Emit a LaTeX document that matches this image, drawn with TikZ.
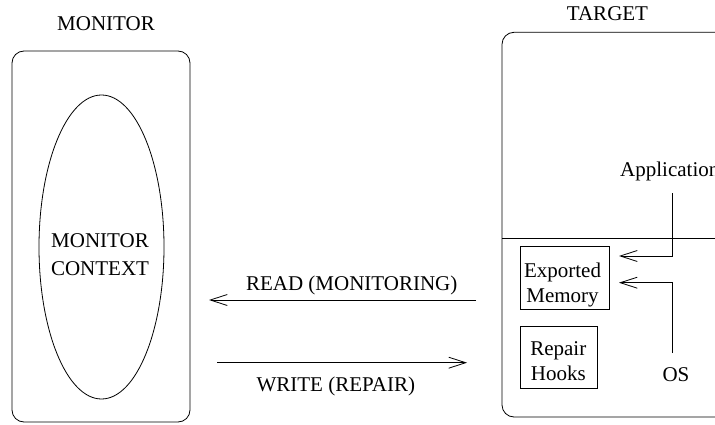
\documentclass[tikz,border=0pt]{standalone}
\usepackage{fontspec}
\setmainfont{Liberation Serif}
\usetikzlibrary{arrows.meta,shapes.geometric}
\begin{document}
\begin{tikzpicture}[x=1pt,y=-1pt,
  every node/.style={font=\fontsize{21}{25}\selectfont, inner sep=0pt},
  line/.style={line width=0.8pt},
  flow/.style={line, -{Straight Barb[length=17pt,width=11pt,line width=0.8pt]}},
  panel/.style={line, draw, rounded corners=12pt},
  membox/.style={line, draw},
  twoline/.style={align=center, anchor=north, font=\fontsize{21}{#1}\selectfont}]
\useasboundingbox (0,0) rectangle (715,425);
\clip (0,0) rectangle (715,425);

% monitor side
\node[anchor=base] (monlabel) at (106,31) {MONITOR};
\node[panel, minimum width=178pt, minimum height=371pt] (monitor) at (101,236.5) {};
\node[line, draw, ellipse, minimum width=125pt, minimum height=304pt]
  (context) at (101.5,247) {};
\node[twoline=28] (ctxtext) at (100,233.8) {MONITOR\\CONTEXT};

% target side
\node[anchor=base] (tgtlabel) at (607.5,20.7) {TARGET};
\draw[panel] (502,32.3) rectangle (740,417);
\coordinate (splitL) at (502,238);
\coordinate (splitR) at (715,238);
\draw[line] (splitL) -- (splitR);

\node[membox, minimum width=88.6pt, minimum height=62.8pt] (exported) at (565,277.9) {};
\node[twoline=25] (exptext) at (562.5,262.4) {Exported\\Memory};
\node[membox, minimum width=77.5pt, minimum height=61.6pt] (repair) at (558.75,357.5) {};
\node[twoline=24.7] (reptext) at (558.3,341.7) {Repair\\Hooks};
\node[anchor=base west] (app) at (620,176) {Application};
\node[anchor=base] (os) at (676,381.7) {OS};

\coordinate (appfoot) at (672,193);
\coordinate (apptip) at (619,256);
\coordinate (osfoot) at (672,353);
\coordinate (ostip) at (619,282.7);
\draw[flow] (appfoot) |- (apptip);
\draw[flow] (osfoot) |- (ostip);

% traffic between the two sides
\coordinate (readfrom) at (476,300);
\coordinate (readto) at (209,300);
\coordinate (writefrom) at (217,362.7);
\coordinate (writeto) at (467,362.7);
\draw[flow] (readfrom) -- (readto);
\draw[flow] (writefrom) -- (writeto);
\node[anchor=base] (readlbl) at (351.7,290) {READ (MONITORING)};
\node[anchor=base] (writelbl) at (335.8,391) {WRITE (REPAIR)};
\end{tikzpicture}
\end{document}
